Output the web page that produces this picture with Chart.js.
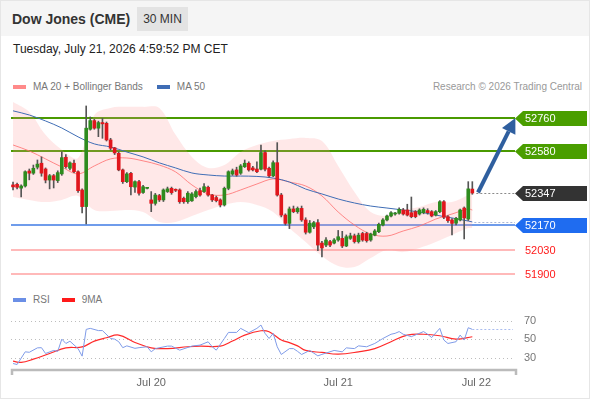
<!DOCTYPE html>
<html>
<head>
<meta charset="utf-8">
<script src="https://cdn.jsdelivr.net/npm/chart.js@4.4.1/dist/chart.umd.min.js"></script>
<style>
  body { margin: 0; background: #fff; font-family: "Liberation Sans", Arial, sans-serif; }
  #wrap { position: relative; width: 590px; height: 400px; overflow: hidden; }
  #frame { position: absolute; left: 0; top: 0; width: 588px; height: 397px; border: 1px solid #e6e6e6; }
  #head { position: absolute; left: 1px; top: 1px; width: 588px; height: 35px; background: #f5f5f5; }
  .title { position: absolute; left: 12px; top: 12px; font-size: 14px; line-height: 14px; font-weight: bold; color: #333; }
  .badge { position: absolute; left: 137px; top: 7px; width: 51px; height: 24px; background: #e3e3e3;
           font-size: 12px; line-height: 24px; text-align: center; color: #333; }
  .date { position: absolute; left: 13px; top: 43px; font-size: 12px; line-height: 12px; color: #222; }
  .legend { position: absolute; left: 13px; height: 13px; display: flex; align-items: center;
            font-size: 10px; color: #777; white-space: nowrap; }
  .sw { display: inline-block; width: 13px; height: 4px; margin-right: 7px; }
  .credit { position: absolute; right: 8px; top: 80px; font-size: 10px; line-height: 13px; color: #999; }
  canvas { position: absolute; left: 0; top: 0; }
</style>
</head>
<body>
<div id="wrap">
  <div id="frame"></div>
  <div id="head"></div>
  <div class="title">Dow Jones (CME)</div>
  <div class="badge">30 MIN</div>
  <div class="date">Tuesday, July 21, 2026 4:59:52 PM CET</div>
  <div class="legend" style="top:80px">
    <span class="sw" style="background:#ff8a8a"></span>MA 20 + Bollinger Bands
    <span class="sw" style="background:#3f6db5;margin-left:14px"></span>MA 50
  </div>
  <div class="credit">Research © 2026 Trading Central</div>
  <div class="legend" style="top:293px">
    <span class="sw" style="background:#6b8fe6"></span>RSI
    <span class="sw" style="background:#ff1a1a;margin-left:12px"></span>9MA
  </div>
  <canvas id="price" width="590" height="400"></canvas>
  <canvas id="rsi" width="590" height="400"></canvas>
</div>
<script>
// 30 min candles, oldest first
const open = [52392,52395,52374,52386,52469,52457,52490,52512,52480,52419,52443,52416,52453,52545,52484,52512,52465,52364,52272,52700,
  52748,52706,52737,52733,52641,52597,52567,52475,52410,52456,52380,52410,52350,52373,52309,52290,52333,52309,52355,52373,
  52364,52364,52318,52299,52304,52327,52360,52355,52379,52336,52322,52309,52281,52373,52452,52475,52457,52493,52512,52486,
  52480,52479,52571,52484,52442,52515,52336,52225,52179,52259,52244,52262,52198,52130,52160,52183,52070,52059,52078,52070,
  52087,52096,52054,52096,52110,52078,52123,52123,52087,52114,52133,52170,52198,52220,52231,52235,52253,52253,52238,52244,
  52231,52238,52250,52244,52225,52244,52299,52216,52198,52180,52198,52264,52203,52369];
const high = [52408,52402,52392,52470,52480,52502,52530,52547,52486,52450,52450,52470,52575,52560,52520,52530,52470,52370,52829,52768,
  52755,52745,52760,52740,52650,52600,52575,52480,52460,52462,52415,52418,52390,52378,52355,52345,52340,52370,52380,52380,
  52370,52370,52325,52355,52350,52365,52375,52400,52385,52340,52330,52315,52380,52470,52480,52490,52505,52530,52520,52495,
  52520,52613,52580,52490,52525,52626,52345,52232,52270,52275,52270,52275,52210,52195,52190,52200,52080,52100,52085,52095,
  52140,52135,52115,52125,52120,52125,52130,52130,52125,52145,52180,52205,52225,52245,52240,52265,52262,52285,52325,52250,
  52260,52265,52260,52250,52250,52305,52305,52222,52205,52212,52258,52270,52410,52410];
const low = [52364,52370,52325,52380,52420,52450,52480,52440,52403,52370,52375,52405,52445,52485,52475,52460,52350,52237,52176,52695,
  52700,52659,52650,52635,52585,52560,52470,52400,52405,52336,52350,52335,52345,52370,52244,52280,52300,52300,52350,52340,
  52355,52290,52290,52290,52300,52320,52330,52350,52330,52300,52298,52270,52275,52365,52445,52440,52450,52488,52468,52470,
  52460,52475,52470,52435,52438,52330,52215,52170,52150,52238,52235,52190,52120,52125,52150,52028,51994,52050,52050,52065,
  52080,52045,52050,52090,52070,52070,52080,52075,52080,52110,52128,52165,52192,52215,52225,52230,52225,52220,52210,52210,
  52225,52232,52230,52215,52220,52238,52205,52185,52115,52170,52192,52093,52195,52340];
const close = [52381,52379,52386,52465,52457,52484,52507,52457,52419,52443,52419,52460,52543,52493,52514,52465,52360,52272,52706,52748,
  52706,52737,52730,52641,52595,52569,52475,52410,52453,52382,52410,52346,52382,52375,52290,52336,52309,52364,52370,52349,
  52362,52299,52299,52346,52342,52355,52336,52382,52336,52309,52305,52281,52373,52465,52470,52447,52497,52512,52475,52475,
  52465,52571,52479,52442,52515,52336,52225,52179,52259,52244,52262,52198,52130,52180,52183,52059,52043,52087,52059,52087,
  52105,52054,52105,52110,52078,52114,52087,52083,52120,52137,52174,52198,52220,52238,52233,52257,52231,52225,52216,52216,
  52253,52257,52238,52220,52244,52299,52213,52194,52179,52207,52253,52209,52370,52347];

// indicator readings, sampled at these candle indexes
const bandIdx = [0,4,8,12,16,20,24,28,32,36,40,44,48,52,56,60,64,68,72,76,80,84,88,92,96,100,104,108,112,113];
const ma20 = [52613,52580,52536,52491,52453,52497,52536,52541,52525,52502,52464,52392,52342,52336,52364,52397,52425,52408,52386,52331,
  52242,52170,52120,52109,52137,52164,52203,52231,52259,52253];
const bandUpper = [52851,52796,52669,52586,52541,52779,52818,52824,52824,52818,52669,52547,52486,52502,52574,52613,52635,52646,52652,52635,
  52497,52353,52242,52220,52253,52270,52297,52297,52336,52353];
const bandLower = [52325,52309,52297,52309,52331,52253,52248,52253,52242,52187,52187,52220,52253,52281,52297,52281,52242,52153,52076,51998,
  51943,51937,51987,52032,52020,52043,52076,52115,52153,52153];
const ma50 = [52802,52779,52746,52707,52658,52619,52602,52574,52547,52514,52486,52458,52447,52441,52441,52439,52430,52408,52369,52342,
  52314,52292,52275,52264,52253,52242,52225,52209,52192,52187];

const rsiIdx = [0,1,3,4,6,7,8,10,11,12,13,14,16,17,18,19,21,22,24,25,26,27,28,30,31,33,34,35,38,39,41,44,46,48,49,50,52,53,55,56,
  58,60,61,62,63,64,65,66,68,69,70,71,73,75,76,79,81,82,84,85,87,89,91,93,94,95,96,98,101,102,103,105,106,107,109,110,111,112,113];
const rsiVal = [23.8,22.7,36.5,36,40.8,41,34.7,38,37,50.3,45.6,48,40,31.8,60.9,62,59.6,59.6,51,50.3,47.5,41,43,40.3,41,42,36.5,40,42.7,42.7,
  38.3,42.7,43.8,47.4,42,38.3,51,57.6,57.6,62,57.3,62,65.6,56.6,51,56.6,42,33.6,40,40,37,33.6,38,32.1,33.7,38,36.5,40.8,40,43,
  42,45.6,51,55.6,56.6,58.5,55.6,53,58.5,55.6,52,62,49.3,45.6,47.5,54.7,49.3,62.7,60.9];
const ma9Idx = [0,2,5,9,13,17,20,23,26,30,34,38,43,46,51,54,57,61,63,66,68,70,72,76,80,85,89,93,97,101,105,109,113];
const ma9Val = [26.3,25,28.5,34.7,40.8,41.8,48.2,51.8,54.7,46.7,40.8,40,42,42.7,42.7,48.2,54.7,59.4,58.3,49.3,46.5,43,38,35.8,34,36.5,40,
  47.5,54.7,55.6,54,50.3,52.9];

// support / resistance levels shown on the right
const levels = [52760, 52580, 52347, 52170, 52030, 51900];
const rsiTicks = [30, 50, 70];
const dateTicks = [34, 80, 114];
const dateLabels = ["Jul 20", "Jul 21", "Jul 22"];
// forecast arrow, candle index / price
const arrowFrom = [114.4, 52350];
const arrowTo = [123.6, 52762];

const GREEN = "#2e8b1e", RED = "#e0161c";
const levelStyle = [
  { line: "#4a9a00", tag: "#4a9e00", text: "#fff" },
  { line: "#4a9a00", tag: "#4a9e00", text: "#fff" },
  { line: null, tag: "#333333", text: "#fff" },
  { line: "#6f9ceb", tag: "#1f6cf0", text: "#fff" },
  { line: "#ffb9b9", tag: null, text: "#ff1a1a" },
  { line: "#ffb9b9", tag: null, text: "#ff1a1a" },
];

const pts = (xs, ys) => xs.map((x, i) => ({ x: x, y: ys[i] }));
const idx = open.map((_, i) => i);
const xAxis = { type: "linear", min: -0.5, max: 123.5, offset: false, display: false };

const priceOverlay = {
  id: "priceOverlay",
  beforeDatasetsDraw(chart) {
    const { ctx, chartArea: a, scales: { y } } = chart;
    ctx.save();
    ctx.lineWidth = 2;
    levels.forEach((v, k) => {
      const st = levelStyle[k];
      if (!st.line) return;
      const py = Math.round(y.getPixelForValue(v));
      ctx.strokeStyle = st.line;
      ctx.beginPath();
      ctx.moveTo(a.left, py);
      ctx.lineTo(a.right, py);
      ctx.stroke();
    });
    ctx.restore();
  },
  afterDatasetsDraw(chart) {
    const { ctx, chartArea: a, scales: { x, y } } = chart;
    const last = close.length - 1;
    ctx.save();
    // dotted extensions of last close and MA 50
    ctx.lineWidth = 1;
    ctx.setLineDash([2, 2]);
    ctx.strokeStyle = "#8a8a8a";
    let py = Math.round(y.getPixelForValue(close[last])) + 0.5;
    ctx.beginPath(); ctx.moveTo(x.getPixelForValue(last) + 4, py); ctx.lineTo(a.right, py); ctx.stroke();
    ctx.strokeStyle = "#a9b6d6";
    py = Math.round(y.getPixelForValue(ma50[ma50.length - 1])) + 0.5;
    ctx.beginPath(); ctx.moveTo(x.getPixelForValue(last) + 2, py); ctx.lineTo(a.right, py); ctx.stroke();
    ctx.setLineDash([]);

    // forecast arrow
    const x0 = x.getPixelForValue(arrowFrom[0]), y0 = y.getPixelForValue(arrowFrom[1]);
    const x1 = x.getPixelForValue(arrowTo[0]), y1 = y.getPixelForValue(arrowTo[1]);
    const ang = Math.atan2(y1 - y0, x1 - x0);
    const hl = 15, hw = 7.5;
    const bx = x1 - hl * Math.cos(ang), by = y1 - hl * Math.sin(ang);
    ctx.strokeStyle = ctx.fillStyle = "#2f5f9f";
    ctx.lineWidth = 4;
    ctx.beginPath(); ctx.moveTo(x0, y0); ctx.lineTo(bx, by); ctx.stroke();
    ctx.beginPath();
    ctx.moveTo(x1, y1);
    ctx.lineTo(bx + hw * Math.sin(ang), by - hw * Math.cos(ang));
    ctx.lineTo(bx - hw * Math.sin(ang), by + hw * Math.cos(ang));
    ctx.closePath();
    ctx.fill();

    // price tags
    ctx.font = "11px 'Liberation Sans', Arial, sans-serif";
    ctx.textBaseline = "middle";
    levels.forEach((v, k) => {
      const st = levelStyle[k];
      const ty = Math.round(y.getPixelForValue(v)) + 0.5;
      const l = a.right, h = 7.5;
      if (st.tag) {
        ctx.fillStyle = st.tag;
        ctx.beginPath();
        ctx.moveTo(l, ty);
        ctx.lineTo(l + 8, ty - h);
        ctx.lineTo(587, ty - h);
        ctx.lineTo(587, ty + h);
        ctx.lineTo(l + 8, ty + h);
        ctx.closePath();
        ctx.fill();
      }
      ctx.fillStyle = st.text;
      ctx.fillText(String(v), l + 10, ty + 0.5);
    });
    ctx.restore();
  },
};

new Chart(document.getElementById("price"), {
  type: "bar",
  data: {
    datasets: [
      {
        type: "line", data: pts(bandIdx, bandUpper), fill: "+1", backgroundColor: "rgba(255,150,150,0.22)",
        borderWidth: 0, pointRadius: 0, tension: 0.35, order: 5,
      },
      {
        type: "line", data: pts(bandIdx, bandLower), fill: false,
        borderWidth: 0, pointRadius: 0, tension: 0.35, order: 5,
      },
      {
        type: "line", data: pts(bandIdx, ma20), borderColor: "rgba(255,110,110,0.8)", borderWidth: 1,
        pointRadius: 0, tension: 0.35, order: 4,
      },
      {
        type: "line", data: pts(bandIdx, ma50), borderColor: "#3f6db5", borderWidth: 1,
        pointRadius: 0, tension: 0.35, order: 3,
      },
      {
        data: idx.map(i => ({ x: i, y: [low[i], high[i]] })), backgroundColor: "#555",
        barThickness: 1, grouped: false, order: 2,
      },
      {
        data: idx.map(i => ({ x: i, y: [open[i], close[i]] })),
        backgroundColor: idx.map(i => (close[i] >= open[i] ? GREEN : RED)),
        barThickness: 3, minBarLength: 1, grouped: false, order: 1,
      },
    ],
  },
  options: {
    responsive: false,
    animation: false,
    layout: { padding: { left: 11, right: 75, top: 100, bottom: 117 } },
    plugins: { legend: { display: false }, tooltip: { enabled: false } },
    scales: {
      x: xAxis,
      y: { display: false, min: 51849, max: 52862 },
    },
  },
  plugins: [priceOverlay],
});

const rsiOverlay = {
  id: "rsiOverlay",
  beforeDatasetsDraw(chart) {
    const { ctx, chartArea: a, scales: { y } } = chart;
    ctx.save();
    ctx.strokeStyle = "#bdbdbd";
    ctx.lineWidth = 1;
    ctx.setLineDash([1, 3]);
    rsiTicks.forEach(t => {
      const py = Math.round(y.getPixelForValue(t)) + 0.5;
      ctx.beginPath(); ctx.moveTo(a.left, py); ctx.lineTo(a.right, py); ctx.stroke();
    });
    ctx.restore();
  },
  afterDatasetsDraw(chart) {
    const { ctx, chartArea: a, scales: { x, y } } = chart;
    ctx.save();
    // last RSI value carried to the edge
    const lastY = Math.round(y.getPixelForValue(rsiVal[rsiVal.length - 1])) + 0.5;
    ctx.strokeStyle = "#a9bcef";
    ctx.setLineDash([2, 2]);
    ctx.beginPath();
    ctx.moveTo(x.getPixelForValue(rsiIdx[rsiIdx.length - 1]), lastY);
    ctx.lineTo(a.right - 2, lastY);
    ctx.stroke();
    ctx.setLineDash([]);

    ctx.font = "11px 'Liberation Sans', Arial, sans-serif";
    ctx.fillStyle = "#777";
    ctx.textBaseline = "middle";
    rsiTicks.forEach(t => ctx.fillText(String(t), a.right + 9, y.getPixelForValue(t)));

    // time axis
    const ay = 370;
    ctx.strokeStyle = "#bbbbbb";
    ctx.lineWidth = 2.5;
    ctx.beginPath();
    ctx.moveTo(a.left + 1, ay + 5); ctx.lineTo(a.left + 1, ay); ctx.lineTo(a.right + 1, ay); ctx.lineTo(a.right + 1, ay + 5);
    ctx.stroke();
    ctx.fillStyle = "#666";
    ctx.textAlign = "center";
    dateTicks.forEach((t, k) => ctx.fillText(dateLabels[k], x.getPixelForValue(t), 383));
    ctx.restore();
  },
};

new Chart(document.getElementById("rsi"), {
  type: "line",
  data: {
    datasets: [
      { data: pts(rsiIdx, rsiVal), borderColor: "#7f9be8", borderWidth: 1, pointRadius: 0, tension: 0 },
      { data: pts(ma9Idx, ma9Val), borderColor: "#ff2a2a", borderWidth: 1.2, pointRadius: 0, tension: 0.4 },
    ],
  },
  options: {
    responsive: false,
    animation: false,
    layout: { padding: { left: 11, right: 75, top: 304, bottom: 33 } },
    plugins: { legend: { display: false }, tooltip: { enabled: false } },
    scales: {
      x: xAxis,
      y: { display: false, min: 20, max: 88.5 },
    },
  },
  plugins: [rsiOverlay],
});
</script>
</body>
</html>
